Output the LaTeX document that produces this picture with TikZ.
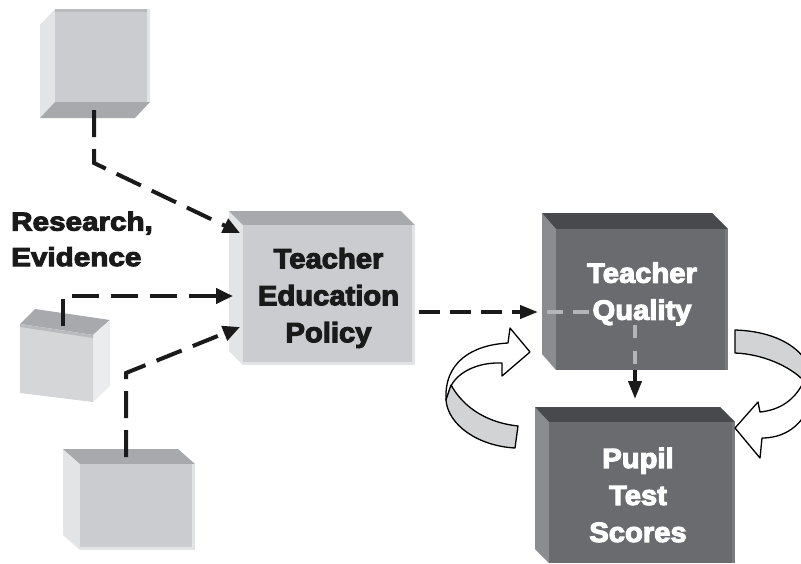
\documentclass[tikz,border=0pt]{standalone}
\usepackage{fontspec}
\usetikzlibrary{arrows.meta}
\newfontfamily\labfont{Liberation Sans}[FakeStretch=1.14, BoldFeatures={FakeBold=4}]
\newfontfamily\boxfont{Liberation Sans}[FakeStretch=1.05, BoldFeatures={FakeBold=4}]
\definecolor{lfront}{HTML}{CBCCCF}
\definecolor{lside}{HTML}{E3E4E6}
\definecolor{ltop}{HTML}{A8A9AC}
\definecolor{lstrip}{HTML}{B9BABD}
\definecolor{dfront}{HTML}{6A6B6F}
\definecolor{dside}{HTML}{8B8C90}
\definecolor{dtop}{HTML}{48494C}
\definecolor{dstrip}{HTML}{7A7B7F}
\definecolor{ink}{HTML}{1A1A1A}
\definecolor{ghost}{HTML}{B4B5B8}
\definecolor{band}{HTML}{D2D3D5}
\tikzset{
  front/.style={inner sep=0pt, outer sep=0pt, anchor=north west, draw=none},
  conn/.style={draw=ink, line width=4pt, dash pattern=on 27pt off 12pt,
    -{Triangle[length=17pt,width=15pt]}},
  connshort/.style={draw=ink, line width=4pt, dash pattern=on 21pt off 10pt,
    -{Triangle[length=18pt,width=13pt]}},
  solidarrow/.style={draw=ink, line width=4pt, -{Triangle[length=18pt,width=13pt]}},
  ghostline/.style={draw=ghost, line width=4.5pt},
  ribbon/.style={draw=black, line width=1.3pt, line join=round},
  lab/.style={font=\labfont\bfseries\fontsize{26}{35.5}\selectfont, text=ink,
    align=left, inner sep=0pt},
  boxtxt/.style={font=\boxfont\bfseries\fontsize{27.8}{37}\selectfont,
    align=center, inner sep=0pt}
}
\begin{document}
\begin{tikzpicture}[x=1pt, y=-1pt]
\useasboundingbox (0,0) rectangle (801,563);
\begin{scope}
\clip (0,0) rectangle (801,563);

% ---------- Box 1 (top left source) ----------
\fill[lside] (55,9) -- (40,25) -- (40,118) -- (55,102) -- cycle;
\fill[ltop] (55,102) -- (150,102) -- (135,118) -- (40,118) -- cycle;
\node[front, fill=lfront, minimum width=95pt, minimum height=93pt] (src1) at (55,9) {};
\fill[lstrip] (55,9) rectangle (150,12);
\fill[lside] (147,9) rectangle (150,102);

% ---------- Box 5 (middle left source) ----------
\fill[ltop] (20,324) -- (35,309) -- (110,320) -- (93,335) -- cycle;
\fill[lside!70!white] (93,335) -- (110,320) -- (110,386) -- (93,402) -- cycle;
\fill[lfront!80!white] (20,324) -- (93,335) -- (93,402) -- (20,393) -- cycle;
\fill[lstrip] (20,324) -- (93,335) -- (93,338) -- (20,327) -- cycle;
\coordinate (src2) at (57,360);

% ---------- Box 6 (bottom left source) ----------
\fill[lside] (80,464) -- (63,449) -- (63,535) -- (80,550) -- cycle;
\fill[ltop] (80,464) -- (63,449) -- (178,449) -- (195,464) -- cycle;
\node[front, fill=lfront, minimum width=115pt, minimum height=86pt] (src3) at (80,464) {};
\fill[lside] (192,464) rectangle (195,550);
\fill[lside] (80,547) rectangle (195,550);

% ---------- Box 2 : Teacher Education Policy ----------
\fill[lside] (243,225) -- (229,211) -- (229,351) -- (243,365) -- cycle;
\fill[ltop] (243,225) -- (229,211) -- (401,211) -- (415,225) -- cycle;
\node[front, fill=lfront, minimum width=172pt, minimum height=140pt] (tep) at (243,225) {};
\fill[lside] (412,225) rectangle (415,365);
\fill[lside] (243,362) rectangle (415,365);

% ---------- Box 3 : Teacher Quality ----------
\fill[dside] (556,229) -- (542,213) -- (542,354) -- (556,370) -- cycle;
\fill[dtop] (556,229) -- (542,213) -- (712,213) -- (728,229) -- cycle;
\node[front, fill=dfront, minimum width=172pt, minimum height=141pt] (tq) at (556,229) {};
\fill[dstrip] (725,229) rectangle (728,370);

% ---------- Box 4 : Pupil Test Scores ----------
\fill[dside] (549,422) -- (535,407) -- (535,549) -- (549,563) -- cycle;
\fill[dtop] (549,422) -- (535,407) -- (720,407) -- (735,422) -- cycle;
\node[front, fill=dfront, minimum width=186pt, minimum height=141pt] (pts) at (549,422) {};
\fill[dstrip] (732,422) rectangle (735,563);

% ---------- connector points ----------
\coordinate (s1) at (94,110);
\coordinate (k1) at (94,163);
\coordinate (t1) at (240,233);
\coordinate (s2) at (63,326);
\coordinate (k2) at (63,296);
\coordinate (t2) at (233,296);
\coordinate (s3) at (126,457);
\coordinate (k3) at (126,373);
\coordinate (t3) at (240,327);
\coordinate (s4) at (419,312);
\coordinate (t4) at (538,312);
\coordinate (g1) at (547,312);
\coordinate (g2) at (590,312);
\coordinate (v1) at (635,325);
\coordinate (v2) at (635,366);
\coordinate (v3) at (635,370);
\coordinate (v4) at (635,399);

% ---------- dashed connectors ----------
\draw[conn] (s1) -- (k1) -- (t1);
\draw[conn] (s2) -- (k2) -- (t2);
\draw[conn] (s3) -- (k3) -- (t3);
\draw[connshort] (s4) -- (t4);
\draw[ghostline, dash pattern=on 16pt off 10pt] (g1) -- (g2);
\draw[ghostline, dash pattern=on 13pt off 13pt] (v1) -- (v2);
\draw[solidarrow] (v3) -- (v4);

% ---------- left ribbon arrow ----------
\draw[ribbon, fill=white] (446,400) .. controls (444,362) and (472,345) .. (508,343)
  -- (510,328) -- (530,352) -- (502,376) -- (502,363)
  .. controls (478,362) and (458,372) .. (451,386) -- cycle;
\draw[ribbon, fill=band] (451,385) .. controls (465,410) and (490,423) .. (518,426)
  -- (515,448) .. controls (478,446) and (448,425) .. (446,400) -- cycle;

% ---------- right ribbon arrow ----------
\draw[ribbon, fill=band] (735,330) .. controls (768,331) and (792,342) .. (804,358)
  -- (804,381) .. controls (790,366) and (762,354) .. (735,353) -- cycle;
\draw[ribbon, fill=white] (804,381) .. controls (795,400) and (780,410) .. (760,412)
  -- (758,402) -- (735,428) -- (760,458) -- (762,438)
  .. controls (780,438) and (795,430) .. (804,416) -- cycle;

% ---------- texts ----------
\node[lab, anchor=north west] (rlab) at (11,211.5) {Research,\\Evidence};
\node[boxtxt, text=ink] (tept) at (328.5,298) {Teacher\\Education\\Policy};
\node[boxtxt, text=white] (tqt) at (642,294) {Teacher\\Quality};
\node[boxtxt, text=white] (ptst) at (638,495) {Pupil\\Test\\Scores};
\end{scope}
\end{tikzpicture}
\end{document}
